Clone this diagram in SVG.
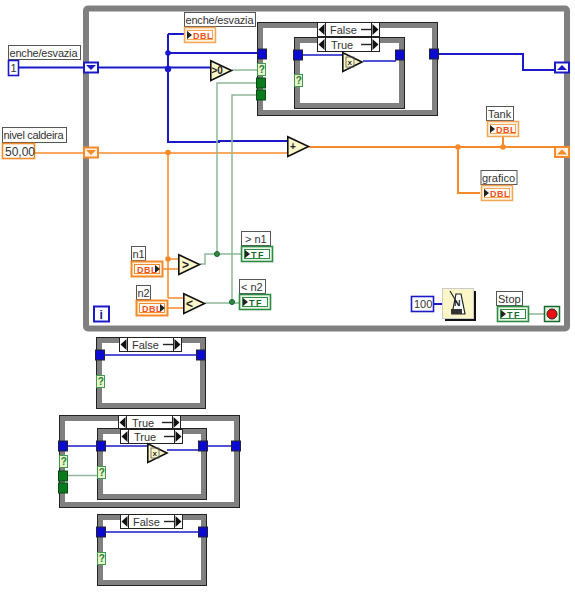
<svg xmlns="http://www.w3.org/2000/svg" xmlns:xlink="http://www.w3.org/1999/xlink" width="575" height="593" viewBox="0 0 575 593">
<style>
text{font-family:"Liberation Sans",Arial,sans-serif;font-size:11px;fill:#333}
.lbl{fill:#fff;stroke:#555;stroke-width:1}
.frame{fill:#fff;stroke:#808080;stroke-width:6}
.edge{fill:none;stroke:#222;stroke-width:1}
.blue{fill:none;stroke:#1a1ac8;stroke-width:2}
.thin{fill:none;stroke:#1a1ac8;stroke-width:1.5}
.or{fill:none;stroke:#f58a2a;stroke-width:1.5}
.or2{fill:none;stroke:#f58a2a;stroke-width:2}
.gr{fill:none;stroke:#8db898;stroke-width:1.5}
.jb{fill:#1a1ac8}.jo{fill:#f58a2a}.jg{fill:#2e8b46;stroke:#14602a;stroke-width:1}
.tri{fill:#fbf6c8;stroke:#111;stroke-width:1.6}
.tb{fill:#0a0ad0;stroke:#223;stroke-width:1}
.tg{fill:#0a7a1e;stroke:#0a4a14;stroke-width:1}
.tq{fill:#e6f6c8;stroke:#3f9a50;stroke-width:1}
.sym{font-weight:bold;font-size:10px;fill:#222}
.dbl{font-weight:bold;font-size:9px;fill:#f0501a;letter-spacing:.5px}
.tf{font-weight:bold;font-size:9px;fill:#176a2a;letter-spacing:1.5px}
.q{font-size:10px;font-weight:bold;fill:#2a7a3a}
</style>
<defs>
<g id="dblR"><rect x=".5" y=".5" width="31" height="15" fill="#fff3e2" stroke="#f7a658" stroke-width="1.5"/><rect x="3.5" y="3.5" width="25" height="9" fill="#fff" stroke="#f7a658"/><path d="M3 4l5 4-5 4z" fill="#222"/><text x="9" y="12" class="dbl">DBL</text></g>
<g id="dblL"><rect x=".5" y=".5" width="31" height="15" fill="#fff3e2" stroke="#f58a2a" stroke-width="2"/><rect x="3.5" y="3.5" width="25" height="9" fill="#fff" stroke="#f58a2a"/><path d="M24 4l5 4-5 4z" fill="#222"/><text x="6" y="12" class="dbl">DBL</text></g>
<g id="tfI"><rect x=".5" y=".5" width="31" height="15" fill="#eaf6e4" stroke="#2e8b46" stroke-width="1.6"/><rect x="3.5" y="3.5" width="25" height="9" fill="#fff" stroke="#2e8b46"/><path d="M4 4l5 4-5 4z" fill="#222"/><text x="10" y="12" class="tf">TF</text></g>
<g id="q"><rect x="-3.5" y="-5.5" width="8" height="12" class="tq"/><text x="-2.3" y="4" class="q">?</text></g>
<rect id="tB" x="-4.5" y="-5" width="9" height="10" class="tb"/>
<rect id="tG" x="-4.5" y="-5" width="9" height="10" class="tg"/>
<g id="selHead"><rect x=".5" y=".5" width="62" height="14" fill="#fff" stroke="#222"/><rect x=".5" y=".5" width="8" height="14" fill="#fff" stroke="#222"/><rect x="54.5" y=".5" width="8" height="14" fill="#fff" stroke="#222"/><path d="M1.5 7.500l6-5.500v11zM61.500 7.500l-6-5.500v11z" fill="#111"/></g>
<g id="selF"><use xlink:href="#selHead" href="#selHead"/><text x="13" y="12">False</text><path d="M44 7.500h11" stroke="#222" stroke-width="1.400"/></g>
<g id="selT"><use xlink:href="#selHead" href="#selHead"/><text x="14" y="12">True</text><path d="M44 7.500h11" stroke="#222" stroke-width="1.400"/></g>
<g id="absT"><path d="M.8 .8L20 10 .8 19.500z" class="tri"/><rect x="4" y="5" width="8" height="10" fill="none" stroke="#555" stroke-width=".8"/><text x="5.400" y="13" style="font-size:8px;font-weight:bold">x</text></g>
</defs>
<rect width="575" height="593" fill="#fff"/>

<g id="while-loop">
<rect x="86" y="8.500" width="481" height="320" rx="2" class="frame"/>
</g>

<g id="connectors">
<path class="blue" d="M19 67.500H210M168 34V142H219V141H287M168 34H184M168 53H257"/>
<path class="blue" d="M438 54H523V70H555"/>
<path class="thin" d="M266 54H294M302 55H342M363 61H396M404 55H430"/>
<path class="or" d="M35 153H287M168 153V298M163 269H178M168 259H178M168 298H183M168 308H183"/>
<path class="or2" d="M309 147H555M458 147V193H480M503 137V147"/>
<path class="gr" d="M232 70H257M217 254V83H257M232 302V95H257M266 95H283V80H294M200 264H205V254H241M205 303H240M528 314H544"/>
<path class="blue" d="M434 304H442"/>
<circle cx="168" cy="53" r="2.800" class="jb"/><circle cx="168" cy="69" r="3.200" class="jb"/>
<circle cx="168" cy="152.500" r="2.800" class="jo"/><circle cx="168" cy="259" r="2.800" class="jo"/>
<circle cx="458" cy="147" r="2.800" class="jo"/><circle cx="503" cy="147" r="2.800" class="jo"/>
<circle cx="217" cy="254" r="2.500" class="jg"/><circle cx="232" cy="302" r="2.500" class="jg"/>
</g>

<g id="case-outer">
<rect x="260" y="25" width="175" height="88" class="frame"/>
<rect x="257.500" y="22.500" width="180" height="93" class="edge"/>
<use xlink:href="#selF" href="#selF" x="317" y="22"/>
</g>
<g id="case-inner">
<rect x="297" y="40" width="105" height="66" class="frame"/>
<rect x="294.500" y="37.500" width="110" height="71" class="edge"/>
<use xlink:href="#selT" href="#selT" x="317" y="37"/>
<path class="thin" d="M302 55H342M363 61H396"/>
<use xlink:href="#tB" href="#tB" x="298" y="55"/><use xlink:href="#tB" href="#tB" x="400" y="55"/>
<use xlink:href="#q" href="#q" x="298" y="80"/>
<use xlink:href="#absT" href="#absT" x="342" y="52"/>
</g>
<g id="case-tunnels">
<use xlink:href="#tB" href="#tB" x="262" y="54"/><use xlink:href="#tB" href="#tB" x="434" y="54"/>
<use xlink:href="#q" href="#q" x="261" y="69"/>
<use xlink:href="#tG" href="#tG" x="261" y="83"/><use xlink:href="#tG" href="#tG" x="261" y="95"/>
</g>

<g id="ctl-enche">
<rect x="8.500" y="45.500" width="72" height="14" class="lbl"/><text x="9.500" y="56.500" textLength="68">enche/esvazia</text>
<rect x="8.500" y="60.500" width="10" height="15" fill="#fff" stroke="#1a1ac8" stroke-width="1.600"/><text x="10.500" y="72">1</text>
</g>
<g id="tun-enche"><rect x="84" y="62.500" width="14" height="10" fill="#fff" stroke="#1a1ac8" stroke-width="2"/><path d="M86 65h10l-5 5z" fill="#1a1ac8"/></g>
<g id="ctl-nivel">
<rect x="2.500" y="127.500" width="64" height="15" class="lbl"/><text x="3.500" y="139" textLength="60">nivel caldeira</text>
<rect x="2.500" y="143.500" width="32" height="15" fill="#fff" stroke="#f58a2a" stroke-width="1.600"/><text x="5" y="155.500" style="font-size:12px">50,00</text>
</g>
<g id="tun-nivel"><rect x="84" y="147.500" width="14" height="10" fill="#fff2e0" stroke="#f58a2a" stroke-width="2"/><path d="M86 150h10l-5 5z" fill="#f58a2a"/></g>
<g id="ind-enche-top">
<rect x="184.500" y="12.500" width="71" height="14" class="lbl"/><text x="185.500" y="23.500" textLength="68">enche/esvazia</text>
<use xlink:href="#dblR" href="#dblR" x="184" y="27"/>
</g>
<g id="cmp-gt0"><path d="M210.800 60.800L231.500 70.500 210.800 80.500z" class="tri"/><text x="211.500" y="74" class="sym">&gt;0</text></g>
<g id="add"><path d="M287.800 136.800L308.500 146.500 287.800 156.500z" class="tri"/><text x="290" y="150" class="sym">+</text></g>
<g id="ind-tank">
<rect x="486.500" y="106.500" width="27" height="14" class="lbl"/><text x="488" y="118">Tank</text>
<use xlink:href="#dblR" href="#dblR" x="487" y="121"/>
</g>
<g id="ind-grafico">
<rect x="481" y="170.500" width="36" height="14" class="lbl"/><text x="482" y="182">grafico</text>
<use xlink:href="#dblR" href="#dblR" x="481" y="185"/>
</g>
<g id="tun-out-blue"><rect x="555" y="62.500" width="14" height="10" fill="#fff" stroke="#1a1ac8" stroke-width="2"/><path d="M557 70h10l-5-5z" fill="#1a1ac8"/></g>
<g id="tun-out-orange"><rect x="555" y="147" width="14" height="10" fill="#fff2e0" stroke="#f58a2a" stroke-width="2"/><path d="M557 154.500h10l-5-5z" fill="#f58a2a"/></g>
<g id="ctl-n1">
<rect x="131.500" y="246.500" width="14" height="14" class="lbl"/><text x="132.500" y="258">n1</text>
<use xlink:href="#dblL" href="#dblL" x="131" y="261"/>
</g>
<g id="ctl-n2">
<rect x="136.500" y="285.500" width="14" height="14" class="lbl"/><text x="137.500" y="297">n2</text>
<use xlink:href="#dblL" href="#dblL" x="136" y="300"/>
</g>
<g id="cmp-gt"><path d="M178.800 254.800L199.500 264.500 178.800 274.500z" class="tri"/><text x="182" y="269" class="sym" style="font-size:12px">&gt;</text></g>
<g id="cmp-lt"><path d="M183.800 293.800L204.500 303.500 183.800 313.500z" class="tri"/><text x="186" y="308" class="sym" style="font-size:12px">&lt;</text></g>
<g id="ind-n1">
<rect x="241.500" y="231.500" width="29" height="14" class="lbl"/><text x="245" y="243">&gt; n1</text>
<use xlink:href="#tfI" href="#tfI" x="241" y="246"/>
</g>
<g id="ind-n2">
<rect x="239.500" y="279.500" width="26" height="14" class="lbl"/><text x="241" y="291">&lt; n2</text>
<use xlink:href="#tfI" href="#tfI" x="239" y="294"/>
</g>
<g id="iter"><rect x="94" y="306.500" width="15" height="15" fill="#fff" stroke="#1a1ac8" stroke-width="2"/><text x="99.500" y="319" style="fill:#1a1a90;font-weight:bold;font-size:12px">i</text></g>
<g id="const-100"><rect x="411.500" y="296.500" width="22" height="15" fill="#fff" stroke="#1a1ac8" stroke-width="1.600"/><text x="414" y="308">100</text></g>
<g id="wait">
<rect x="445" y="291" width="31" height="30" fill="#111"/>
<rect x="442.500" y="288.500" width="31" height="30" fill="#fbf6c8" stroke="#ccc"/>
<path d="M452 314l4-20h5l4 20z" fill="#fff" stroke="#222" stroke-width="1.200"/><path d="M450 291l9 15" stroke="#222" stroke-width="1.200"/><path d="M451 309h11v5h-11z" fill="#333"/><text x="454" y="306" style="font-size:9px;font-weight:bold;fill:#222">N</text>
</g>
<g id="ind-stop">
<rect x="496.500" y="291.500" width="26" height="14" class="lbl"/><text x="498" y="303">Stop</text>
<use xlink:href="#tfI" href="#tfI" x="497" y="306"/>
</g>
<g id="stop"><rect x="544.500" y="306.500" width="15" height="15" fill="#e8f4e2" stroke="#1a6a30" stroke-width="1.500"/><circle cx="552" cy="314" r="5" fill="#ee1010" stroke="#222"/></g>

<g id="case-false-a">
<rect x="99" y="340" width="104" height="66" class="frame"/>
<rect x="96.500" y="337.500" width="109" height="71" class="edge"/>
<use xlink:href="#selF" href="#selF" x="119" y="337"/>
<path class="thin" d="M104 355H197"/>
<use xlink:href="#tB" href="#tB" x="100" y="355"/><use xlink:href="#tB" href="#tB" x="201" y="355"/>
<use xlink:href="#q" href="#q" x="100" y="381"/>
</g>
<g id="case-true-outer">
<rect x="62" y="418" width="175" height="87" class="frame"/>
<rect x="59.500" y="415.500" width="180" height="92" class="edge"/>
<use xlink:href="#selT" href="#selT" x="118" y="415"/>
<path class="thin" d="M67 446H97M207 446H232"/>
<path class="gr" d="M67 475.500H97"/>
<use xlink:href="#tB" href="#tB" x="63" y="446"/><use xlink:href="#tB" href="#tB" x="236" y="446"/>
<use xlink:href="#q" href="#q" x="63" y="461"/>
<use xlink:href="#tG" href="#tG" x="63" y="476"/><use xlink:href="#tG" href="#tG" x="63" y="488"/>
</g>
<g id="case-true-inner">
<rect x="100" y="431" width="104" height="66" class="frame"/>
<rect x="97.500" y="428.500" width="109" height="71" class="edge"/>
<use xlink:href="#selT" href="#selT" x="120" y="429"/>
<path class="thin" d="M105 446H147M167 450H199"/>
<use xlink:href="#tB" href="#tB" x="101" y="446"/><use xlink:href="#tB" href="#tB" x="203" y="446"/>
<use xlink:href="#q" href="#q" x="101" y="472"/>
<use xlink:href="#absT" href="#absT" x="147" y="443"/>
</g>
<g id="case-false-b">
<rect x="100" y="517" width="104" height="66" class="frame"/>
<rect x="97.500" y="514.500" width="109" height="71" class="edge"/>
<use xlink:href="#selF" href="#selF" x="120" y="514"/>
<path class="thin" d="M105 532H199"/>
<use xlink:href="#tB" href="#tB" x="101" y="532"/><use xlink:href="#tB" href="#tB" x="203" y="532"/>
<use xlink:href="#q" href="#q" x="101" y="558"/>
</g>
</svg>
